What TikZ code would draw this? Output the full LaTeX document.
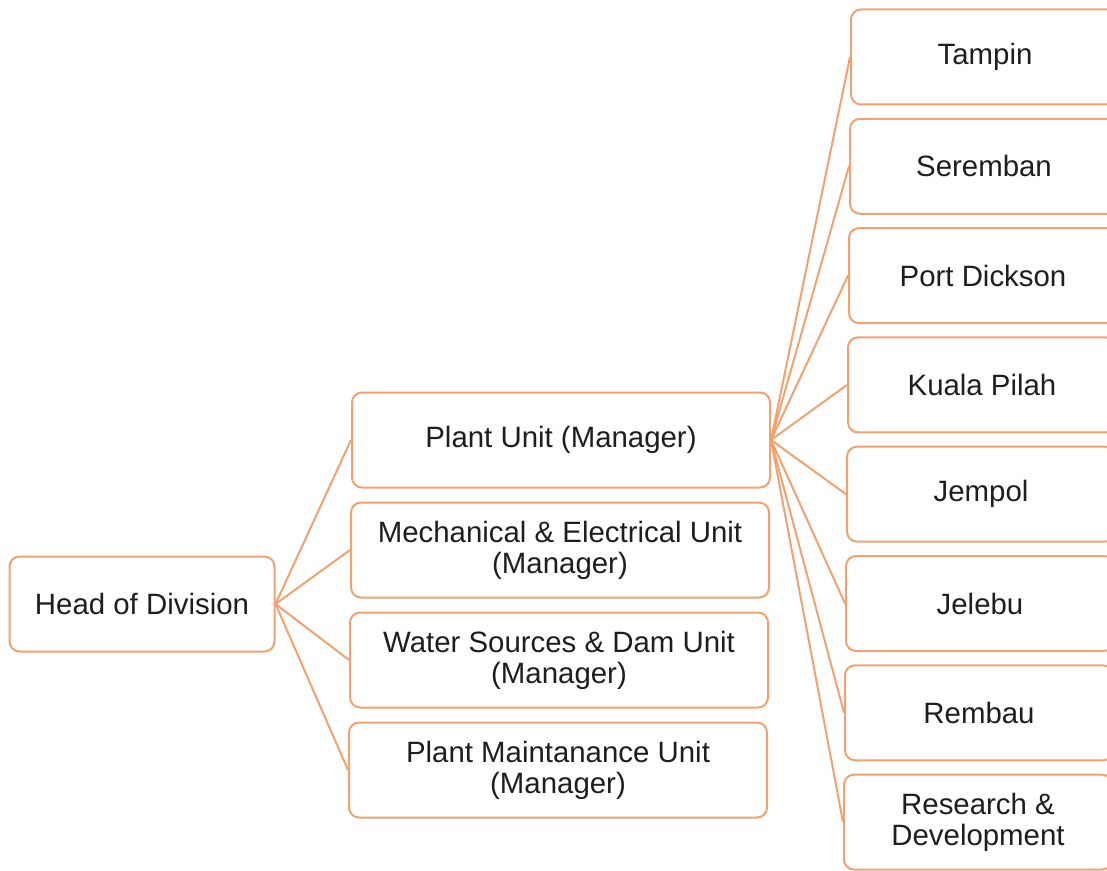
\documentclass[tikz,border=0pt]{standalone}
\usepackage{fontspec}
\setmainfont{Liberation Sans}
\definecolor{peach}{RGB}{240,162,112}
\definecolor{ink}{RGB}{30,30,30}
\tikzset{
  unitbox/.style={draw=peach,line width=1pt,rounded corners=5pt,fill=white,
    align=center,text=ink,font=\fontsize{14.7}{15.5}\selectfont,
    minimum height=47.5pt,inner sep=2pt},
  headbox/.style={unitbox,minimum width=132.5pt},
  midbox/.style={unitbox,minimum width=209pt},
  sitebox/.style={unitbox,minimum width=134pt,anchor=west},
  link/.style={draw=peach,line width=1pt}
}
\begin{document}
\begin{tikzpicture}[x=0.5pt,y=-0.5pt]
\useasboundingbox (0,0) rectangle (1107,871);
\clip (0,0) rectangle (1107,871);
% head of division
\node[headbox] (head) at (142,604) {Head of Division};
% managers
\node[midbox] (plant) at (561,440) {Plant Unit (Manager)};
\node[midbox] (mech) at (560,550) {Mechanical \& Electrical Unit\\(Manager)};
\node[midbox] (water) at (559,660) {Water Sources \& Dam Unit\\(Manager)};
\node[midbox] (maint) at (558,770) {Plant Maintanance Unit\\(Manager)};
\foreach \m in {plant,mech,water,maint}
  \draw[link] (head.east) -- (\m.west);
% plant sites
\foreach \s/\txt [count=\i] in {tampin/Tampin,seremban/Seremban,pd/Port Dickson,
    kp/Kuala Pilah,jempol/Jempol,jelebu/Jelebu,rembau/Rembau,
    rnd/{Research \&\\Development}}
{
  \node[sitebox] (\s) at ({851-\i},{57+(\i-1)*109.3}) {\txt};
  \draw[link] (plant.east) -- (\s.west);
}
\end{tikzpicture}
\end{document}
